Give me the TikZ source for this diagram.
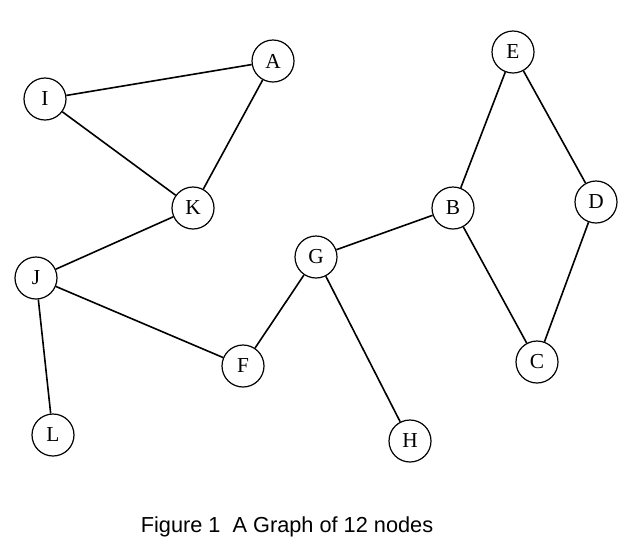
\documentclass[tikz,border=0pt]{standalone}
\usepackage{fontspec}
\setmainfont{Liberation Serif}
\newfontfamily\capfont{Liberation Sans}
\usetikzlibrary{arrows, calc, positioning, shapes}

\tikzset{
	vertex/.style={draw, circle, line width=0.9pt, minimum size=31.5pt, inner sep=0pt, font=\fontsize{16}{18}\selectfont},
	edge/.style={line width=1.2pt}
}

\begin{document}
\begin{tikzpicture}[x=0.75pt, y=-0.75pt]
			\useasboundingbox (0, 0) rectangle (631, 551);
			\node[vertex] (A) at (273, 61) {A};
			\node[vertex] (I) at (45, 99) {I};
			\node[vertex] (K) at (193, 208) {K};
			\node[vertex] (E) at (513, 52) {E};
			\node[vertex] (B) at (453, 208) {B};
			\node[vertex] (D) at (596, 202) {D};
			\node[vertex] (G) at (316, 257) {G};
			\node[vertex] (J) at (36, 278) {J};
			\node[vertex] (F) at (243, 366) {F};
			\node[vertex] (C) at (537, 362) {C};
			\node[vertex] (L) at (53, 435) {L};
			\node[vertex] (H) at (410, 441) {H};
			\draw[edge] (I) -- (A);
			\draw[edge] (A) -- (K);
			\draw[edge] (I) -- (K);
			\draw[edge] (K) -- (J);
			\draw[edge] (J) -- (F);
			\draw[edge] (J) -- (L);
			\draw[edge] (F) -- (G);
			\draw[edge] (G) -- (B);
			\draw[edge] (G) -- (H);
			\draw[edge] (B) -- (E);
			\draw[edge] (E) -- (D);
			\draw[edge] (D) -- (C);
			\draw[edge] (B) -- (C);
			\node[font=\capfont\fontsize{16.3}{19}\selectfont] (caption) at (287, 527) {Figure 1\ \ A Graph of 12 nodes};
\end{tikzpicture}
\end{document}
